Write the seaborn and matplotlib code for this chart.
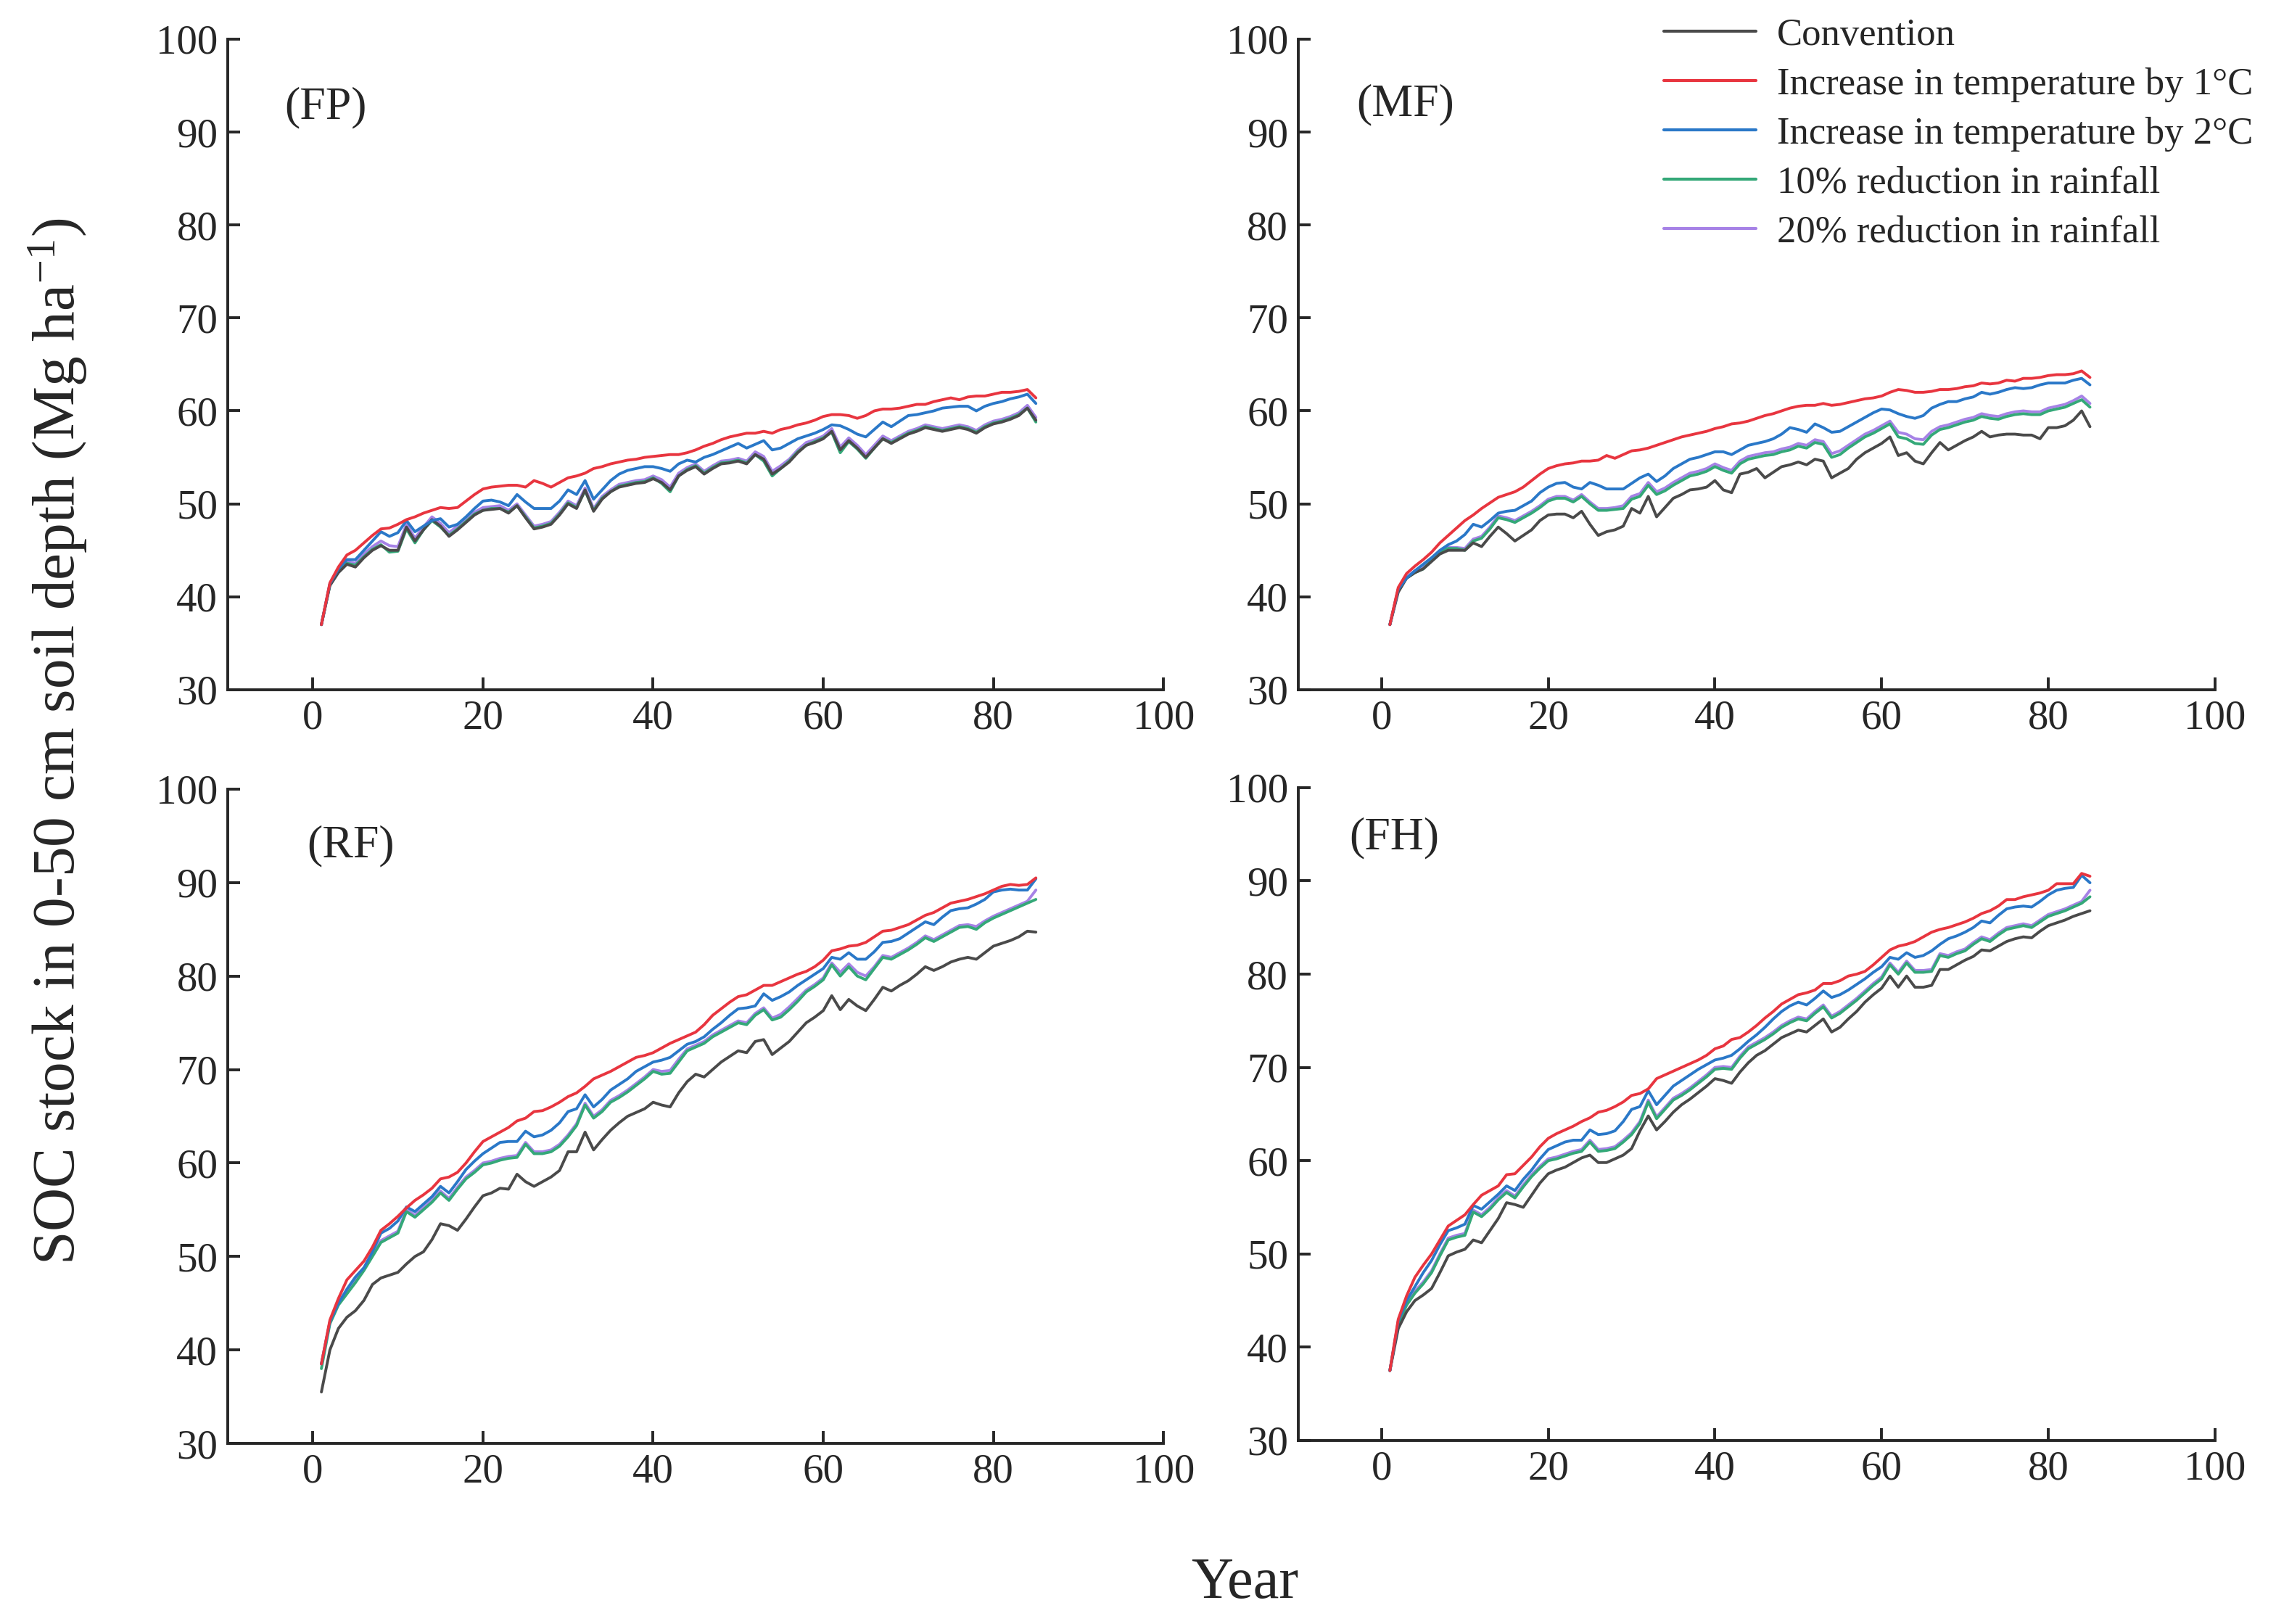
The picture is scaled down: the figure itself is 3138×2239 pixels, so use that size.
import numpy as np
import pandas as pd
import matplotlib
matplotlib.use('Agg')
import matplotlib.pyplot as plt
from matplotlib.lines import Line2D
import seaborn as sns

# ---- data, years 1..85 ----
years = list(range(1, 86))

scenarios = ['Convention', 'Increase in temperature by 1°C', 'Increase in temperature by 2°C',
             '10% reduction in rainfall', '20% reduction in rainfall']
colors = ['#4a4a4a', '#e8353f', '#2a78c8', '#34a878', '#a682e6']
panel_names = ['(FP)', '(MF)', '(RF)', '(FH)']

fp_conv = [37.0, 41.2, 42.6, 43.5, 43.2, 44.2, 45.0, 45.5, 45.0, 45.0,
           47.5, 46.0, 47.2, 48.3, 47.6, 46.5, 47.2, 48.0, 48.8, 49.3,
           49.4, 49.5, 49.0, 49.8, 48.5, 47.3, 47.5, 47.8, 48.8, 50.0,
           49.5, 51.5, 49.2, 50.5, 51.3, 51.8, 52.0, 52.2, 52.3, 52.7,
           52.3, 51.5, 53.0, 53.6, 54.0, 53.2, 53.8, 54.3, 54.4, 54.6,
           54.3, 55.3, 54.8, 53.2, 53.8, 54.5, 55.5, 56.3, 56.6, 57.0,
           57.8, 55.8, 56.8, 56.0, 55.0, 56.0, 57.0, 56.5, 57.0, 57.5,
           57.8, 58.2, 58.0, 57.8, 58.0, 58.2, 58.0, 57.6, 58.2, 58.6,
           58.8, 59.1, 59.5, 60.3, 59.0]
fp_t1 = [37.0, 41.5, 43.2, 44.5, 45.0, 45.8, 46.6, 47.3, 47.4, 47.8,
         48.3, 48.6, 49.0, 49.3, 49.6, 49.5, 49.6, 50.3, 51.0, 51.6,
         51.8, 51.9, 52.0, 52.0, 51.8, 52.5, 52.2, 51.8, 52.3, 52.8,
         53.0, 53.3, 53.8, 54.0, 54.3, 54.5, 54.7, 54.8, 55.0, 55.1,
         55.2, 55.3, 55.3, 55.5, 55.8, 56.2, 56.5, 56.9, 57.2, 57.4,
         57.6, 57.6, 57.8, 57.6, 58.0, 58.2, 58.5, 58.7, 59.0, 59.4,
         59.6, 59.6, 59.5, 59.2, 59.5, 60.0, 60.2, 60.2, 60.3, 60.5,
         60.7, 60.7, 61.0, 61.2, 61.4, 61.2, 61.5, 61.6, 61.6, 61.8,
         62.0, 62.0, 62.1, 62.3, 61.4]
fp_t2 = [37.0, 41.4, 43.0, 44.0, 44.0, 45.0, 46.0, 47.0, 46.5, 46.9,
         48.2, 47.0, 47.6, 48.2, 48.4, 47.5, 47.8, 48.6, 49.5, 50.3,
         50.4, 50.2, 49.8, 51.0, 50.2, 49.5, 49.5, 49.5, 50.3, 51.5,
         51.0, 52.5, 50.5, 51.5, 52.5, 53.2, 53.6, 53.8, 54.0, 54.0,
         53.8, 53.5, 54.3, 54.7, 54.5, 55.0, 55.3, 55.7, 56.1, 56.5,
         56.0, 56.4, 56.8, 55.8, 56.0, 56.5, 57.0, 57.3, 57.6, 58.0,
         58.5, 58.4, 58.0, 57.5, 57.2, 58.0, 58.8, 58.3, 58.9, 59.5,
         59.6, 59.8, 60.0, 60.3, 60.4, 60.5, 60.5, 60.0, 60.5, 60.8,
         61.0, 61.3, 61.5, 61.8, 60.8]
fp_r10 = [37.0, 41.3, 42.8, 43.6, 43.4, 44.3, 45.1, 45.6, 44.8, 44.9,
          47.3, 45.8, 47.2, 48.2, 47.5, 46.6, 47.3, 48.1, 48.9, 49.3,
          49.5, 49.5, 49.1, 49.8, 48.6, 47.4, 47.6, 47.9, 48.9, 50.1,
          49.6, 51.4, 49.3, 50.6, 51.3, 51.9, 52.1, 52.3, 52.4, 52.8,
          52.2, 51.3, 53.0, 53.7, 54.1, 53.3, 53.9, 54.4, 54.5, 54.7,
          54.4, 55.3, 54.6, 53.0, 53.8, 54.6, 55.6, 56.3, 56.7, 57.1,
          57.7, 55.5, 56.7, 55.9, 54.9, 56.0, 57.0, 56.6, 57.1, 57.6,
          57.9, 58.3, 58.1, 57.9, 58.1, 58.3, 58.1, 57.7, 58.3, 58.7,
          58.9, 59.2, 59.6, 60.3, 58.8]
fp_r20 = [37.0, 41.4, 42.9, 43.8, 43.6, 44.6, 45.4, 46.0, 45.5, 45.4,
          47.8, 46.3, 47.5, 48.6, 47.9, 46.9, 47.6, 48.4, 49.1, 49.6,
          49.7, 49.8, 49.3, 50.0, 48.8, 47.6, 47.8, 48.1, 49.1, 50.3,
          49.8, 51.7, 49.5, 50.8, 51.5, 52.1, 52.3, 52.5, 52.6, 53.0,
          52.6, 51.8, 53.3, 53.9, 54.3, 53.5, 54.1, 54.6, 54.7, 54.9,
          54.6, 55.6, 55.1, 53.5, 54.1, 54.8, 55.8, 56.6, 56.9, 57.3,
          58.1, 56.1, 57.1, 56.3, 55.3, 56.3, 57.3, 56.8, 57.3, 57.8,
          58.1, 58.5, 58.3, 58.1, 58.3, 58.5, 58.3, 57.9, 58.5, 58.9,
          59.1, 59.4, 59.8, 60.6, 59.3]

mf_conv = [37.0, 40.5, 42.0, 42.6, 43.0, 43.8, 44.6, 45.0, 45.0, 45.0,
           45.8, 45.4, 46.5, 47.5, 46.8, 46.0, 46.6, 47.2, 48.2, 48.8,
           48.9, 48.9, 48.5, 49.2, 47.8, 46.6, 47.0, 47.2, 47.6, 49.5,
           49.0, 50.8, 48.6, 49.6, 50.6, 51.0, 51.5, 51.6, 51.8, 52.5,
           51.5, 51.2, 53.2, 53.4, 53.8, 52.8, 53.4, 54.0, 54.2, 54.5,
           54.2, 54.8, 54.6, 52.8, 53.3, 53.8, 54.8, 55.5, 56.0, 56.5,
           57.2, 55.2, 55.5, 54.6, 54.3, 55.5, 56.6, 55.8, 56.3, 56.8,
           57.2, 57.8, 57.2, 57.4, 57.5, 57.5, 57.4, 57.4, 57.0, 58.2,
           58.2, 58.4, 59.0, 60.0, 58.3]
mf_t1 = [37.0, 41.0, 42.5, 43.3, 44.0, 44.8, 45.8, 46.6, 47.4, 48.2,
         48.8, 49.5, 50.1, 50.7, 51.0, 51.3, 51.8, 52.5, 53.2, 53.8,
         54.1, 54.3, 54.4, 54.6, 54.6, 54.7, 55.2, 54.9, 55.3, 55.7,
         55.8, 56.0, 56.3, 56.6, 56.9, 57.2, 57.4, 57.6, 57.8, 58.1,
         58.3, 58.6, 58.7, 58.9, 59.2, 59.5, 59.7, 60.0, 60.3, 60.5,
         60.6, 60.6, 60.8, 60.6, 60.7, 60.9, 61.1, 61.3, 61.4, 61.6,
         62.0, 62.3, 62.2, 62.0, 62.0, 62.1, 62.3, 62.3, 62.4, 62.6,
         62.7, 63.0, 62.9, 63.0, 63.3, 63.2, 63.5, 63.5, 63.6, 63.8,
         63.9, 63.9, 64.0, 64.3, 63.6]
mf_t2 = [37.0, 40.8, 42.0, 42.8, 43.5, 44.2, 45.0, 45.6, 46.0, 46.7,
         47.8, 47.5, 48.2, 49.0, 49.2, 49.3, 49.8, 50.3, 51.2, 51.8,
         52.2, 52.3, 51.8, 51.6, 52.3, 52.0, 51.6, 51.6, 51.6, 52.2,
         52.8, 53.2, 52.4, 53.0, 53.8, 54.3, 54.8, 55.0, 55.3, 55.6,
         55.6, 55.3, 55.8, 56.3, 56.5, 56.7, 57.0, 57.5, 58.2, 58.0,
         57.7, 58.6, 58.2, 57.7, 57.8, 58.3, 58.8, 59.3, 59.8, 60.2,
         60.1, 59.7, 59.4, 59.2, 59.5, 60.3, 60.7, 61.0, 61.0, 61.3,
         61.5, 62.0, 61.8, 62.0, 62.3, 62.5, 62.4, 62.5, 62.8, 63.0,
         63.0, 63.0, 63.3, 63.5, 62.8]
mf_r10 = [37.0, 40.8, 42.0, 42.6, 43.0, 43.9, 44.8, 45.2, 45.2, 45.0,
          46.0, 46.3, 47.3, 48.5, 48.3, 48.0, 48.5, 49.0, 49.6, 50.3,
          50.6, 50.6, 50.2, 50.8, 50.0, 49.3, 49.3, 49.4, 49.5, 50.5,
          50.8, 52.0, 51.0, 51.4, 52.0, 52.5, 53.0, 53.2, 53.5, 54.0,
          53.6, 53.3, 54.3, 54.8, 55.0, 55.2, 55.3, 55.6, 55.8, 56.2,
          56.0, 56.6, 56.4, 55.0, 55.3, 56.0, 56.6, 57.2, 57.6, 58.1,
          58.6, 57.2, 57.0, 56.5, 56.4, 57.4, 58.0, 58.2, 58.5, 58.8,
          59.0, 59.4, 59.2, 59.1, 59.4, 59.6, 59.7, 59.6, 59.6, 60.0,
          60.2, 60.4, 60.8, 61.2, 60.4]
mf_r20 = [37.0, 40.8, 42.1, 42.8, 43.2, 44.0, 44.9, 45.3, 45.3, 45.2,
          46.2, 46.5, 47.5, 48.7, 48.5, 48.2, 48.7, 49.2, 49.8, 50.5,
          50.8, 50.8, 50.4, 51.0, 50.2, 49.5, 49.5, 49.6, 49.8, 50.8,
          51.1, 52.3, 51.3, 51.7, 52.3, 52.8, 53.3, 53.5, 53.8, 54.3,
          53.9, 53.6, 54.6, 55.1, 55.3, 55.5, 55.6, 55.9, 56.1, 56.5,
          56.3, 56.9, 56.7, 55.4, 55.7, 56.3, 56.9, 57.5, 57.9, 58.4,
          58.9, 57.7, 57.5, 57.0, 56.9, 57.8, 58.3, 58.5, 58.8, 59.1,
          59.3, 59.7, 59.5, 59.4, 59.7, 59.9, 60.0, 59.9, 59.9, 60.3,
          60.5, 60.7, 61.1, 61.6, 60.8]

rf_conv = [35.5, 40.0, 42.3, 43.5, 44.2, 45.3, 47.0, 47.7, 48.0, 48.3,
           49.2, 50.0, 50.5, 51.8, 53.5, 53.3, 52.8, 54.0, 55.3, 56.5,
           56.8, 57.3, 57.2, 58.8, 58.0, 57.5, 58.0, 58.5, 59.2, 61.2,
           61.2, 63.3, 61.4, 62.5, 63.5, 64.3, 65.0, 65.4, 65.8, 66.5,
           66.2, 66.0, 67.5, 68.7, 69.5, 69.2, 70.0, 70.8, 71.4, 72.0,
           71.8, 73.0, 73.2, 71.6, 72.3, 73.0, 74.0, 75.0, 75.6, 76.3,
           77.9, 76.4, 77.5, 76.8, 76.3, 77.5, 78.8, 78.4, 79.0, 79.5,
           80.2, 81.0, 80.6, 81.0, 81.5, 81.8, 82.0, 81.8, 82.5, 83.2,
           83.5, 83.8, 84.2, 84.8, 84.7]
rf_t1 = [38.5, 43.2, 45.5, 47.5, 48.5, 49.5, 51.0, 52.8, 53.5, 54.3,
         55.2, 56.0, 56.6, 57.3, 58.3, 58.5, 59.0, 60.0, 61.2, 62.3,
         62.8, 63.3, 63.8, 64.5, 64.8, 65.5, 65.6, 66.0, 66.5, 67.1,
         67.5, 68.2, 69.0, 69.4, 69.8, 70.3, 70.8, 71.3, 71.5, 71.8,
         72.3, 72.8, 73.2, 73.6, 74.0, 74.8, 75.8, 76.5, 77.2, 77.8,
         78.0, 78.5, 79.0, 79.0, 79.4, 79.8, 80.2, 80.5, 81.0, 81.7,
         82.7, 82.9, 83.2, 83.3, 83.6, 84.2, 84.8, 84.9, 85.2, 85.5,
         86.0, 86.5, 86.8, 87.3, 87.8, 88.0, 88.2, 88.5, 88.8, 89.2,
         89.6, 89.8, 89.7, 89.8, 90.5]
rf_t2 = [38.5, 43.0, 45.0, 46.5, 47.8, 48.8, 50.5, 52.5, 53.0, 53.8,
         55.3, 54.8, 55.6, 56.4, 57.5, 56.8, 58.0, 59.3, 60.2, 61.0,
         61.6, 62.2, 62.3, 62.3, 63.4, 62.8, 63.0, 63.5, 64.3, 65.5,
         65.8, 67.3, 66.0, 66.8, 67.8, 68.4, 69.0, 69.8, 70.3, 70.8,
         71.0, 71.3, 72.0, 72.7, 73.0, 73.5, 74.3, 75.0, 75.8, 76.5,
         76.6, 76.8, 78.1, 77.4, 77.8, 78.3, 79.0, 79.6, 80.2, 80.8,
         82.0, 81.8, 82.5, 81.8, 81.8, 82.6, 83.6, 83.7, 84.0, 84.6,
         85.2, 85.8, 85.5, 86.3, 87.0, 87.2, 87.3, 87.7, 88.2, 89.0,
         89.2, 89.3, 89.2, 89.2, 90.4]
rf_r10 = [38.0, 42.8, 44.8, 46.0, 47.2, 48.5, 50.0, 51.5, 52.0, 52.5,
          54.8, 54.2, 55.0, 55.8, 56.8, 56.0, 57.2, 58.3, 59.0, 59.8,
          60.0, 60.3, 60.5, 60.6, 62.0, 61.0, 61.0, 61.2, 61.8, 62.8,
          64.0, 66.2, 64.8, 65.5, 66.5, 67.0, 67.6, 68.3, 69.0, 69.8,
          69.5, 69.6, 70.8, 72.0, 72.4, 72.8, 73.5, 74.0, 74.5, 75.0,
          74.8, 75.8, 76.4, 75.3, 75.6, 76.4, 77.3, 78.3, 78.9, 79.6,
          81.2, 80.0, 81.0, 80.0, 79.6, 80.8, 82.0, 81.8, 82.3, 82.8,
          83.4, 84.1, 83.7, 84.2, 84.7, 85.2, 85.3, 85.0, 85.7, 86.2,
          86.6, 87.0, 87.4, 87.8, 88.2]
rf_r20 = [38.5, 43.0, 45.0, 46.2, 47.4, 48.7, 50.2, 51.7, 52.2, 52.7,
          55.0, 54.4, 55.2, 56.0, 57.0, 56.2, 57.4, 58.5, 59.2, 60.0,
          60.2, 60.5, 60.7, 60.8, 62.2, 61.2, 61.2, 61.4, 62.0, 63.0,
          64.2, 66.4, 65.0, 65.7, 66.7, 67.2, 67.8, 68.5, 69.2, 70.0,
          69.8, 69.9, 71.1, 72.2, 72.6, 73.0, 73.7, 74.2, 74.7, 75.2,
          75.0, 76.0, 76.6, 75.5, 75.9, 76.7, 77.6, 78.5, 79.1, 79.8,
          81.4, 80.4, 81.3, 80.4, 80.0, 81.0, 82.2, 82.0, 82.5, 83.0,
          83.6, 84.3, 83.9, 84.4, 84.9, 85.4, 85.5, 85.3, 85.9, 86.4,
          86.8, 87.2, 87.6, 88.0, 89.2]

fh_conv = [37.5, 42.0, 43.8, 45.0, 45.6, 46.3, 48.0, 49.8, 50.2, 50.5,
           51.5, 51.2, 52.5, 53.8, 55.5, 55.3, 55.0, 56.3, 57.6, 58.6,
           59.0, 59.3, 59.8, 60.3, 60.6, 59.8, 59.8, 60.2, 60.6, 61.3,
           63.2, 64.8, 63.3, 64.2, 65.2, 66.0, 66.6, 67.3, 68.0, 68.8,
           68.6, 68.3, 69.5, 70.5, 71.3, 71.8, 72.5, 73.2, 73.6, 74.0,
           73.8, 74.5, 75.2, 73.8, 74.3, 75.2, 76.0, 77.0, 77.8, 78.5,
           79.8, 78.6, 79.8, 78.6, 78.6, 78.8, 80.5, 80.5, 81.0, 81.5,
           81.9, 82.6, 82.5, 83.0, 83.5, 83.8, 84.0, 83.9, 84.6, 85.2,
           85.5, 85.8, 86.2, 86.5, 86.8]
fh_t1 = [37.5, 43.0, 45.5, 47.5, 48.8, 50.0, 51.5, 53.0, 53.6, 54.2,
         55.3, 56.3, 56.8, 57.3, 58.5, 58.6, 59.5, 60.4, 61.5, 62.4,
         62.9, 63.3, 63.7, 64.2, 64.6, 65.2, 65.4, 65.8, 66.3, 67.0,
         67.2, 67.7, 68.8, 69.2, 69.6, 70.0, 70.4, 70.8, 71.3, 72.0,
         72.3, 73.0, 73.2, 73.8, 74.5, 75.3, 76.0, 76.8, 77.3, 77.8,
         78.0, 78.3, 79.0, 79.0, 79.3, 79.8, 80.0, 80.3, 81.0, 81.8,
         82.6, 83.0, 83.2, 83.5, 84.0, 84.5, 84.8, 85.0, 85.3, 85.6,
         86.0, 86.5, 86.8, 87.3, 88.0, 88.0, 88.3, 88.5, 88.7, 89.0,
         89.7, 89.7, 89.7, 90.8, 90.5]
fh_t2 = [37.5, 42.8, 45.0, 46.5, 48.0, 49.3, 51.0, 52.5, 52.8, 53.2,
         55.2, 54.8, 55.6, 56.4, 57.3, 56.8, 58.0, 59.0, 60.2, 61.2,
         61.6, 62.0, 62.2, 62.2, 63.3, 62.8, 62.9, 63.2, 64.2, 65.5,
         65.8, 67.5, 66.0, 67.0, 68.0, 68.6, 69.2, 69.8, 70.3, 70.8,
         71.0, 71.3, 72.0, 72.8, 73.5, 74.3, 75.2, 76.0, 76.6, 77.0,
         76.7, 77.4, 78.2, 77.5, 77.8, 78.3, 78.9, 79.5, 80.2, 80.8,
         81.8, 81.6, 82.3, 81.8, 82.0, 82.5, 83.2, 83.8, 84.1, 84.5,
         85.0, 85.7, 85.5, 86.3, 87.0, 87.2, 87.3, 87.2, 87.8, 88.5,
         89.0, 89.2, 89.3, 90.6, 89.8]
fh_r10 = [37.5, 42.5, 44.5, 45.8, 46.8, 48.0, 49.8, 51.5, 51.8, 52.0,
          54.5, 54.0, 54.8, 55.8, 56.6, 56.0, 57.2, 58.3, 59.2, 60.0,
          60.2, 60.5, 60.8, 61.0, 62.0, 61.0, 61.1, 61.3, 62.0, 62.8,
          64.0, 66.3, 64.5, 65.5, 66.5, 67.0, 67.6, 68.3, 69.0, 69.8,
          69.9, 69.8, 71.0, 72.0, 72.5, 73.0, 73.6, 74.3, 74.8, 75.2,
          75.0, 75.8, 76.5, 75.3, 75.8, 76.5, 77.2, 78.0, 78.8, 79.5,
          81.0, 80.0, 81.2, 80.2, 80.2, 80.3, 82.0, 81.8, 82.2, 82.5,
          83.2, 83.8, 83.5, 84.2, 84.8, 85.0, 85.2, 85.0, 85.6, 86.2,
          86.5, 86.8, 87.2, 87.6, 88.3]
fh_r20 = [37.5, 42.6, 44.7, 46.0, 47.0, 48.2, 50.0, 51.7, 52.0, 52.2,
          54.7, 54.2, 55.0, 56.0, 56.8, 56.2, 57.4, 58.5, 59.4, 60.2,
          60.4, 60.7, 61.0, 61.2, 62.2, 61.2, 61.3, 61.5, 62.2, 63.0,
          64.2, 66.5, 64.7, 65.7, 66.7, 67.2, 67.8, 68.5, 69.2, 70.0,
          70.1, 70.0, 71.2, 72.2, 72.7, 73.2, 73.8, 74.5, 75.0, 75.4,
          75.2, 76.0, 76.7, 75.5, 76.0, 76.7, 77.4, 78.2, 79.0, 79.7,
          81.2, 80.2, 81.4, 80.4, 80.4, 80.5, 82.2, 82.0, 82.4, 82.7,
          83.4, 84.0, 83.7, 84.4, 85.0, 85.2, 85.4, 85.2, 85.8, 86.4,
          86.7, 87.0, 87.4, 87.8, 89.0]

panels = [
    [fp_conv, fp_t1, fp_t2, fp_r10, fp_r20],
    [mf_conv, mf_t1, mf_t2, mf_r10, mf_r20],
    [rf_conv, rf_t1, rf_t2, rf_r10, rf_r20],
    [fh_conv, fh_t1, fh_t2, fh_r10, fh_r20],
]

# ---- style ----
sns.set_style('ticks')
plt.rcParams['font.family'] = ['Liberation Serif', 'DejaVu Serif']
plt.rcParams['mathtext.fontset'] = 'custom'
plt.rcParams['mathtext.rm'] = 'Liberation Serif'
plt.rcParams['mathtext.it'] = 'Liberation Serif:italic'
plt.rcParams['axes.unicode_minus'] = True

ink = '#262626'
palette = dict(zip(scenarios, colors))
draw_order = [scenarios[4], scenarios[3], scenarios[0], scenarios[2], scenarios[1]]

fig = plt.figure(figsize=(31.38, 22.39), dpi=100)

# axes rectangles in figure fractions [left, bottom, width, height]
rects = [
    [0.1001, 0.5753, 0.4111, 0.4006],
    [0.5704, 0.5753, 0.4028, 0.4006],
    [0.1001, 0.1112, 0.4111, 0.4029],
    [0.5704, 0.1130, 0.4028, 0.4020],
]
label_pos = [(-3.3, 92.6), (-3.0, 92.9), (-0.7, 93.9), (-3.9, 94.6)]

for i, series in enumerate(panels):
    ax = fig.add_axes(rects[i])
    df = pd.DataFrame({
        'year': years * len(scenarios),
        'soc': np.concatenate(series),
        'scenario': np.repeat(scenarios, len(years)),
    })
    sns.lineplot(data=df, x='year', y='soc', hue='scenario', hue_order=draw_order,
                 palette=palette, estimator=None, linewidth=2.8, legend=False, ax=ax)
    ax.set_xlim(-10, 100)
    ax.set_ylim(30, 100)
    ax.set_xticks([0, 20, 40, 60, 80, 100])
    ax.set_yticks(range(30, 101, 10))
    ax.set_xlabel('')
    ax.set_ylabel('')
    sns.despine(ax=ax)
    for side in ['left', 'bottom']:
        ax.spines[side].set_linewidth(2.8)
        ax.spines[side].set_color(ink)
    ax.tick_params(direction='in', length=12, width=2.8, colors=ink,
                   labelsize=41, pad=10)
    ax.text(label_pos[i][0], label_pos[i][1], panel_names[i], fontsize=46,
            color=ink, ha='left', va='center')

# legend in the upper-right panel
handles = [Line2D([0], [0], color=c, lw=3.0) for c in colors]
fig.legend(handles, scenarios, loc='upper left', bbox_to_anchor=(0.731, 0.989),
           frameon=False, fontsize=38, handlelength=2.4, handletextpad=0.55,
           labelspacing=0.38, borderpad=0, borderaxespad=0, labelcolor=ink)

fig.text(0.0255, 0.5435, 'SOC stock in 0-50 cm soil depth (Mg ha$^{-1}$)',
         rotation=90, ha='center', va='center', fontsize=60, color=ink)
fig.text(0.547, 0.0246, 'Year', ha='center', va='center', fontsize=58, color=ink)

fig.savefig('out.png', dpi=100, facecolor='white')
